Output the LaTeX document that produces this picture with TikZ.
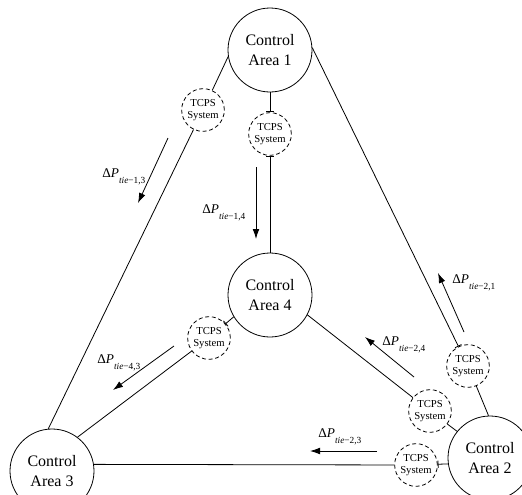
\documentclass[tikz,border=0pt]{standalone}
\usepackage{fontspec}
\setmainfont{Liberation Serif}
\usetikzlibrary{arrows.meta}
\newcommand{\dptie}[1]{Δ\textit{P}\raisebox{-4.5pt}{\fontsize{7}{7}\selectfont\textit{tie}−#1}}
\tikzset{
  area/.style={circle,draw,minimum size=63pt,inner sep=0pt,align=center,font=\fontsize{12}{15}\selectfont},
  tcps/.style={circle,draw,dash pattern=on 3pt off 2pt,minimum size=32pt,inner sep=0pt,align=center,font=\fontsize{8}{9}\selectfont},
  flow/.style={-{Latex[length=7.5pt,width=5pt]}},
  lbl/.style={anchor=base west,inner sep=0pt,font=\fontsize{10}{12}\selectfont}
}
\begin{document}
\begin{tikzpicture}[x=0.75pt,y=-0.75pt,line width=0.6pt]
      \useasboundingbox (0,0) rectangle (522,494);
      \draw
        (270,50) node[area] (a1){Control\\Area 1}
        (490,458) node[area] (a2){Control\\Area 2}
        (52,471) node[area] (a3){Control\\Area 3}
        (270,295) node[area] (a4){Control\\Area 4};
      \draw
        (203,110) node[tcps] (t13){TCPS\\System}
        (270,134) node[tcps] (t14){TCPS\\System}
        (468,366) node[tcps] (t21){TCPS\\System}
        (430,411) node[tcps] (t24){TCPS\\System}
        (416,465) node[tcps] (t23){TCPS\\System}
        (209,338) node[tcps] (t43){TCPS\\System};
      \begin{scope}[-]
        \draw (a1.189) to (t13);
        \draw (t13) to (a3.95);
        \draw[-Bar] (a1) to (t14);
        \draw[Bar-] (t14) to (a4);
        \draw[-Bar] (a1.3) to (t21);
        \draw (t21) to (a2.92);
        \draw (a4.-28) to (t24);
        \draw (t24) to (a2.141);
        \draw (a3.9) to (t23);
        \draw[Bar-] (t23) to (a2.188);
        \draw[-Bar] (a4.211) to (t43);
        \draw (t43) to (a3.53);
      \end{scope}
      % tie-line power flows
      \coordinate (f13a) at (168,138);
      \coordinate (f13b) at (138,203);
      \coordinate (f14a) at (256,167);
      \coordinate (f14b) at (256,239);
      \coordinate (f21a) at (464,332);
      \coordinate (f21b) at (438,273);
      \coordinate (f24a) at (414,377);
      \coordinate (f24b) at (365,337);
      \coordinate (f23a) at (377,451);
      \coordinate (f23b) at (310,451);
      \coordinate (f43a) at (174,346);
      \coordinate (f43b) at (113,390);
      \begin{scope}[flow]
        \draw (f13a) to (f13b);
        \draw (f14a) to (f14b);
        \draw (f21a) to (f21b);
        \draw (f24a) to (f24b);
        \draw (f23a) to (f23b);
        \draw (f43a) to (f43b);
      \end{scope}
      \draw
        (102,177) node[lbl] (l13){\dptie{1,3}}
        (202,213) node[lbl] (l14){\dptie{1,4}}
        (452,283) node[lbl] (l21){\dptie{2,1}}
        (382,345) node[lbl] (l24){\dptie{2,4}}
        (318,437) node[lbl] (l23){\dptie{2,3}}
        (97,363) node[lbl] (l43){\dptie{4,3}};
    \end{tikzpicture}
\end{document}
